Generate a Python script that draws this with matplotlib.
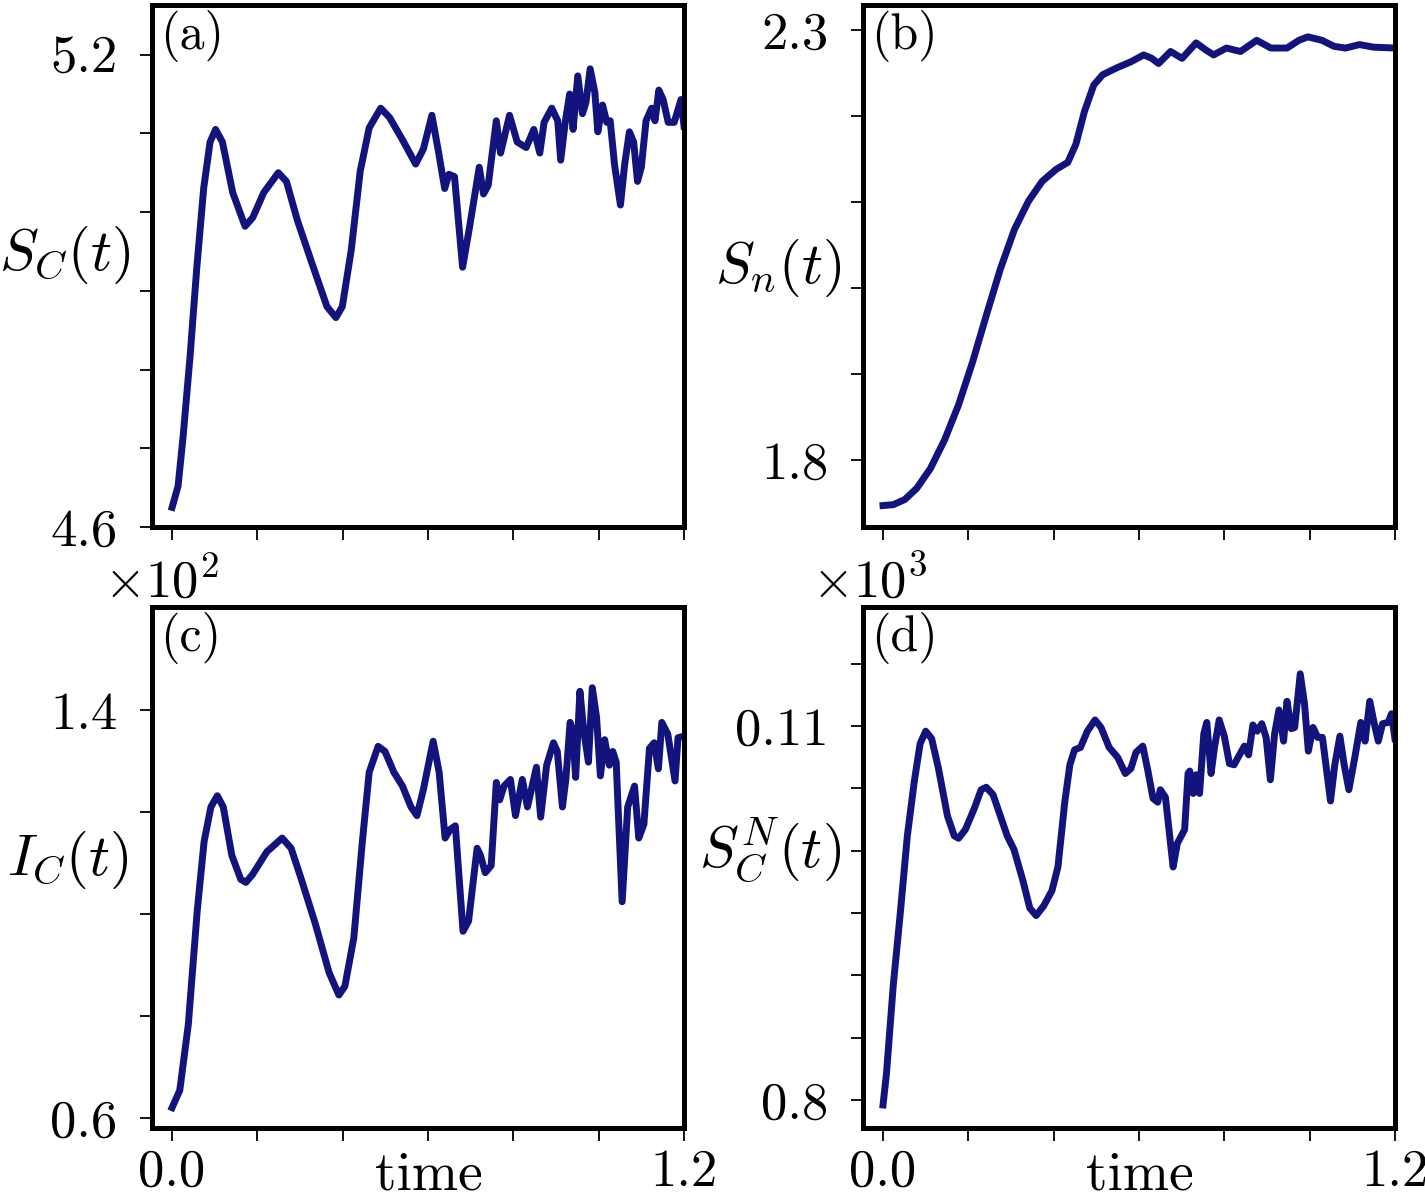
import matplotlib
matplotlib.use("Agg")
import matplotlib.pyplot as plt

plt.rcParams['font.family'] = 'serif'
plt.rcParams['font.serif'] = ['cmr10', 'DejaVu Serif']
plt.rcParams['mathtext.fontset'] = 'cm'
plt.rcParams['axes.unicode_minus'] = False

# (a) S_C(t)
t_a = [0.0, 0.014, 0.026, 0.042, 0.058, 0.074, 0.089, 0.102, 0.118, 0.142, 0.171, 0.189, 0.215, 0.249,
       0.268, 0.294, 0.331, 0.363, 0.384, 0.399, 0.420, 0.441, 0.462, 0.489, 0.510, 0.541, 0.571, 0.589,
       0.609, 0.625, 0.639, 0.649, 0.662, 0.681, 0.697, 0.720, 0.730, 0.741, 0.760, 0.770, 0.791, 0.809,
       0.830, 0.848, 0.862, 0.872, 0.890, 0.904, 0.911, 0.922, 0.932, 0.940, 0.951, 0.962, 0.970, 0.980,
       0.991, 0.998, 1.009, 1.019, 1.027, 1.037, 1.051, 1.061, 1.072, 1.082, 1.091, 1.100, 1.111, 1.124,
       1.132, 1.141, 1.151, 1.163, 1.177, 1.193, 1.200]
s_c = [4.625, 4.652, 4.716, 4.816, 4.930, 5.030, 5.089, 5.105, 5.089, 5.025, 4.982, 4.993, 5.025, 5.050,
       5.039, 4.989, 4.930, 4.880, 4.866, 4.880, 4.952, 5.052, 5.107, 5.132, 5.120, 5.091, 5.061, 5.080,
       5.123, 5.075, 5.030, 5.048, 5.045, 4.930, 4.980, 5.057, 5.023, 5.034, 5.116, 5.075, 5.123, 5.089,
       5.082, 5.105, 5.075, 5.114, 5.132, 5.116, 5.066, 5.116, 5.150, 5.105, 5.173, 5.125, 5.139, 5.182,
       5.152, 5.102, 5.136, 5.114, 5.116, 5.061, 5.009, 5.061, 5.102, 5.089, 5.039, 5.057, 5.116, 5.132,
       5.116, 5.155, 5.143, 5.114, 5.114, 5.143, 5.109]

# (b) S_n(t)
t_b = [0.0, 0.024, 0.051, 0.079, 0.111, 0.144, 0.177, 0.210, 0.242, 0.275, 0.308, 0.341, 0.373, 0.406,
       0.433, 0.452, 0.472, 0.494, 0.515, 0.548, 0.581, 0.611, 0.630, 0.646, 0.674, 0.701, 0.734, 0.756,
       0.775, 0.805, 0.838, 0.876, 0.909, 0.947, 0.975, 0.996, 1.029, 1.057, 1.084, 1.117, 1.150, 1.200]
s_n = [1.747, 1.748, 1.754, 1.767, 1.790, 1.823, 1.864, 1.914, 1.968, 2.022, 2.068, 2.101, 2.124, 2.138,
       2.146, 2.167, 2.205, 2.236, 2.248, 2.256, 2.263, 2.271, 2.267, 2.261, 2.275, 2.267, 2.285, 2.277,
       2.271, 2.279, 2.275, 2.288, 2.279, 2.279, 2.288, 2.292, 2.288, 2.281, 2.279, 2.283, 2.280, 2.279]

# (c) I_C(t), in units of 10^2
t_c = [0.0, 0.018, 0.038, 0.059, 0.075, 0.091, 0.106, 0.120, 0.140, 0.161, 0.173, 0.189, 0.222, 0.258,
       0.279, 0.303, 0.336, 0.368, 0.391, 0.405, 0.426, 0.446, 0.462, 0.483, 0.499, 0.520, 0.540, 0.560,
       0.574, 0.589, 0.612, 0.626, 0.640, 0.652, 0.664, 0.682, 0.695, 0.715, 0.723, 0.734, 0.748, 0.760,
       0.768, 0.778, 0.793, 0.805, 0.821, 0.833, 0.854, 0.864, 0.878, 0.894, 0.903, 0.915, 0.923, 0.933,
       0.939, 0.946, 0.956, 0.965, 0.976, 0.985, 0.995, 1.004, 1.014, 1.025, 1.033, 1.041, 1.055, 1.068,
       1.084, 1.094, 1.106, 1.119, 1.130, 1.140, 1.148, 1.162, 1.179, 1.186, 1.200]
i_c = [0.620, 0.654, 0.783, 1.007, 1.142, 1.210, 1.232, 1.210, 1.115, 1.068, 1.062, 1.078, 1.122, 1.149,
       1.129, 1.068, 0.980, 0.885, 0.841, 0.858, 0.953, 1.142, 1.278, 1.329, 1.319, 1.278, 1.251, 1.210,
       1.193, 1.244, 1.339, 1.278, 1.149, 1.166, 1.173, 0.966, 0.986, 1.129, 1.115, 1.081, 1.095, 1.258,
       1.224, 1.251, 1.264, 1.193, 1.264, 1.210, 1.288, 1.190, 1.292, 1.336, 1.319, 1.210, 1.264, 1.376,
       1.359, 1.268, 1.437, 1.359, 1.298, 1.444, 1.386, 1.271, 1.342, 1.292, 1.319, 1.298, 1.024, 1.210,
       1.251, 1.149, 1.176, 1.325, 1.336, 1.285, 1.376, 1.353, 1.261, 1.346, 1.349]

# (d) S_C^N(t), in units of 10^3
t_d = [0.0, 0.008, 0.024, 0.041, 0.057, 0.073, 0.087, 0.100, 0.114, 0.130, 0.151, 0.167, 0.177, 0.193,
       0.214, 0.230, 0.242, 0.258, 0.275, 0.291, 0.307, 0.328, 0.344, 0.359, 0.377, 0.396, 0.410, 0.426,
       0.438, 0.449, 0.463, 0.479, 0.497, 0.511, 0.530, 0.550, 0.568, 0.581, 0.593, 0.609, 0.621, 0.633,
       0.644, 0.650, 0.662, 0.680, 0.690, 0.707, 0.715, 0.719, 0.727, 0.734, 0.742, 0.752, 0.759, 0.769,
       0.777, 0.788, 0.800, 0.812, 0.823, 0.834, 0.847, 0.857, 0.867, 0.877, 0.888, 0.898, 0.908, 0.918,
       0.928, 0.939, 0.947, 0.957, 0.965, 0.978, 0.988, 0.997, 1.008, 1.019, 1.030, 1.049, 1.059, 1.071,
       1.081, 1.092, 1.106, 1.120, 1.130, 1.141, 1.151, 1.161, 1.171, 1.184, 1.192, 1.200]
s_cn = [0.0796, 0.0821, 0.0892, 0.0952, 0.1012, 0.1055, 0.1086, 0.1096, 0.1090, 0.1066, 0.1028, 0.1012,
        0.1010, 0.1017, 0.1034, 0.1049, 0.1051, 0.1045, 0.1028, 0.1012, 0.1001, 0.0976, 0.0954, 0.0948,
        0.0956, 0.0968, 0.0987, 0.1039, 0.1069, 0.1081, 0.1083, 0.1096, 0.1105, 0.1099, 0.1083, 0.1075,
        0.1062, 0.1066, 0.1079, 0.1084, 0.1064, 0.1042, 0.1039, 0.1049, 0.1043, 0.0987, 0.1006, 0.1017,
        0.1062, 0.1064, 0.1046, 0.1061, 0.1046, 0.1094, 0.1103, 0.1062, 0.1083, 0.1105, 0.1092, 0.1070,
        0.1069, 0.1076, 0.1084, 0.1077, 0.1101, 0.1096, 0.1102, 0.1091, 0.1057, 0.1094, 0.1113, 0.1088,
        0.1120, 0.1098, 0.1099, 0.1142, 0.1118, 0.1080, 0.1099, 0.1091, 0.1091, 0.1040, 0.1069, 0.1092,
        0.1069, 0.1049, 0.1075, 0.1103, 0.1088, 0.1120, 0.1103, 0.1088, 0.1102, 0.1103, 0.1110, 0.1090]

x_ticks = [0.0, 0.2, 0.4, 0.6, 0.8, 1.0, 1.2]
x_ticklabels = ['0.0', '', '', '', '', '', '1.2']

a_ticks = [4.6, 4.7, 4.8, 4.9, 5.0, 5.1, 5.2]
a_labels = ['4.6', '', '', '', '', '', '5.2']
b_ticks = [1.8, 1.9, 2.0, 2.1, 2.2, 2.3]
b_labels = ['1.8', '', '', '', '', '2.3']
c_ticks = [0.6, 0.8, 1.0, 1.2, 1.4]
c_labels = ['0.6', '', '', '', '1.4']
d_ticks = [0.08, 0.085, 0.09, 0.095, 0.10, 0.105, 0.11, 0.115]
d_labels = ['0.8', '', '', '', '', '', '0.11', '']

color = '#13137d'
fs = 38

fig = plt.figure(figsize=(14.25, 12), dpi=100)
ax_a = fig.add_axes([0.1067, 0.5608, 0.3733, 0.435])
ax_b = fig.add_axes([0.6056, 0.5608, 0.3733, 0.435])
ax_c = fig.add_axes([0.1067, 0.0600, 0.3733, 0.434])
ax_d = fig.add_axes([0.6056, 0.0600, 0.3733, 0.434])

panels = [
    (ax_a, t_a, s_c, a_ticks, a_labels, (4.6, 5.263), r'$S_C(t)$', '(a)', (-0.164, 0.521)),
    (ax_b, t_b, s_n, b_ticks, b_labels, (1.722, 2.329), r'$S_n(t)$', '(b)', (-0.16, 0.496)),
    (ax_c, t_c, i_c, c_ticks, c_labels, (0.580, 1.602), r'$I_C(t)$', '(c)', (-0.158, 0.514)),
    (ax_d, t_d, s_cn, d_ticks, d_labels, (0.07775, 0.11955), r'$S_C^N(t)$', '(d)', (-0.175, 0.534)),
]

for ax, t, y, yt, yl, ylim, ylab, tag, lab_xy in panels:
    ax.plot(t, y, color=color, lw=5, solid_joinstyle='round')
    ax.set_xlim(-0.047, 1.2)
    ax.set_ylim(*ylim)
    ax.set_xticks(x_ticks)
    ax.set_yticks(yt)
    ax.set_yticklabels(yl)
    for s in ax.spines.values():
        s.set_linewidth(3.6)
    ax.tick_params(axis='both', direction='out', length=9, width=1.3, labelsize=fs)
    ax.tick_params(axis='y', pad=16)
    ax.tick_params(axis='x', pad=6)
    ax.set_ylabel(ylab, fontsize=42, rotation=0, ha='center', va='center')
    ax.yaxis.set_label_coords(*lab_xy)
    ax.text(0.015, 0.99, tag, transform=ax.transAxes, fontsize=36, va='top', ha='left')

for ax in (ax_a, ax_b):
    ax.set_xticklabels([''] * len(x_ticks))
for ax in (ax_c, ax_d):
    ax.set_xticklabels(x_ticklabels)
    ax.set_xlabel('time', fontsize=40)
    ax.xaxis.set_label_coords(0.52, -0.045)

ax_c.text(-0.09, 1.0, r'$\times10^{2}$', transform=ax_c.transAxes, fontsize=fs, va='bottom', ha='left')
ax_d.text(-0.095, 1.0, r'$\times10^{3}$', transform=ax_d.transAxes, fontsize=fs, va='bottom', ha='left')

fig.savefig('out.png', dpi=100)
